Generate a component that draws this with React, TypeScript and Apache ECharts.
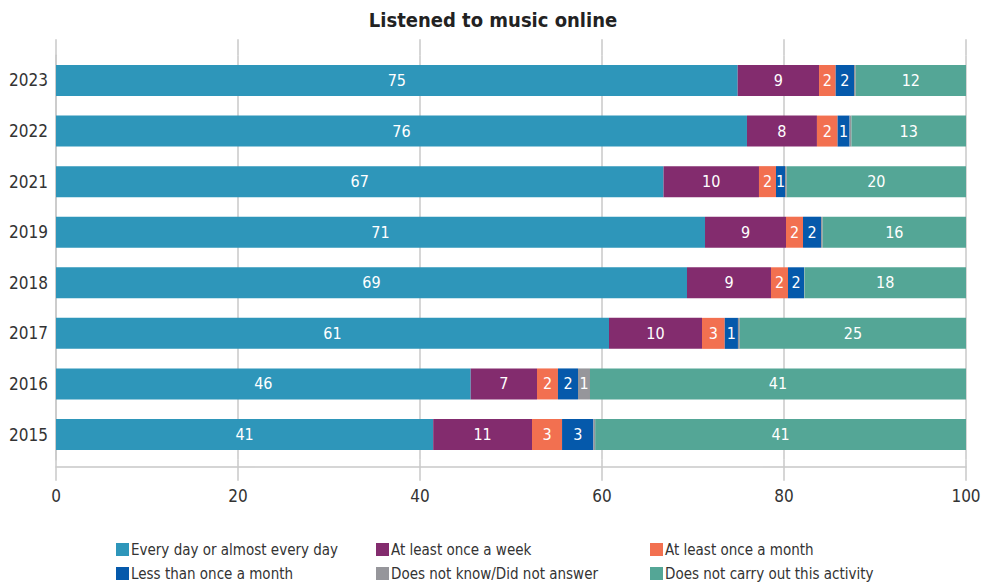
import React, { useEffect, useRef } from "react";
import * as echarts from "echarts";

const years = ["2015", "2016", "2017", "2018", "2019", "2021", "2022", "2023"];
const seriesNames = [
  "Every day or almost every day",
  "At least once a week",
  "At least once a month",
  "Less than once a month",
  "Does not know/Did not answer",
  "Does not carry out this activity",
];
const everyDay = [41.45, 45.57, 60.77, 69.34, 71.32, 66.76, 75.93, 74.91];
const weekly = [10.86, 7.29, 10.22, 9.23, 8.9, 10.49, 7.69, 8.94];
const monthly = [3.3, 2.3, 2.5, 1.87, 1.87, 1.87, 2.27, 1.83];
const lessMonthly = [3.45, 2.2, 1.45, 1.76, 1.98, 0.99, 1.32, 2.01];
const dontKnow = [0.19, 1.32, 0.2, 0.05, 0.18, 0.19, 0.2, 0.19];
const notCarry = [40.75, 41.32, 24.86, 17.75, 15.75, 19.7, 12.59, 12.12];
const xTicks = [0, 20, 40, 60, 80, 100];
const colors = ["#2E96BA", "#832C6E", "#F27050", "#0559AB", "#96969B", "#54A696"];

const FONT = "'DejaVu Sans Condensed', 'Liberation Sans Narrow', 'Roboto', sans-serif";
const GRID_COLOR = "#c8c8c8";

export default function App() {
  const ref = useRef<HTMLDivElement>(null);
  useEffect(() => {
    if (!ref.current) return;
    const chart = echarts.init(ref.current, undefined, { renderer: "svg" });
    const values = [everyDay, weekly, monthly, lessMonthly, dontKnow, notCarry];
    const legendPos = [
      { left: 116, top: 542 },
      { left: 376, top: 542 },
      { left: 650, top: 542 },
      { left: 116, top: 566 },
      { left: 376, top: 566 },
      { left: 650, top: 566 },
    ];
    chart.setOption({
      animation: false,
      backgroundColor: "#ffffff",
      textStyle: { fontFamily: FONT },
      title: {
        text: "Listened to music online",
        left: "center",
        top: 5,
        textStyle: { fontFamily: FONT, fontSize: 20, fontWeight: "bold", color: "#222" },
      },
      legend: seriesNames.map((n, i) => ({
        data: [n],
        left: legendPos[i].left,
        top: legendPos[i].top,
        itemWidth: 13,
        itemHeight: 13,
        icon: "rect",
        padding: 0,
        selectedMode: false,
        textStyle: { fontFamily: FONT, fontSize: 15, color: "#333", padding: [0, 0, 0, -3] },
      })),
      grid: { left: 56, right: 20, top: 55.2, height: 404.6 },
      xAxis: [
        {
          type: "value",
          min: xTicks[0],
          max: xTicks[xTicks.length - 1],
          interval: 20,
          position: "bottom",
          axisLine: { show: false },
          axisTick: { show: true, length: 21, lineStyle: { color: GRID_COLOR, width: 1.5 } },
          splitLine: { show: true, lineStyle: { color: GRID_COLOR, width: 1.5 } },
          axisLabel: { margin: 28, fontFamily: FONT, fontSize: 17, color: "#333" },
        },
        {
          type: "value",
          min: 0,
          max: 100,
          interval: 20,
          position: "bottom",
          offset: 7,
          axisLine: { show: true, lineStyle: { color: GRID_COLOR, width: 1.5 } },
          axisTick: { show: false },
          splitLine: { show: false },
          axisLabel: { show: false },
        },
        {
          type: "value",
          min: 0,
          max: 100,
          interval: 20,
          position: "top",
          axisLine: { show: false },
          axisTick: { show: true, length: 16, lineStyle: { color: GRID_COLOR, width: 1.5 } },
          splitLine: { show: false },
          axisLabel: { show: false },
        },
      ],
      yAxis: {
        type: "category",
        data: years,
        axisLine: { show: true, lineStyle: { color: GRID_COLOR, width: 1.5 } },
        axisTick: { show: false },
        axisLabel: { margin: 8, fontFamily: FONT, fontSize: 17, color: "#333" },
      },
      series: seriesNames.map((name, i) => ({
        name,
        type: "bar",
        stack: "total",
        xAxisIndex: 0,
        barWidth: 31,
        itemStyle: { color: colors[i] },
        data: values[i],
        label: {
          show: true,
          position: "inside",
          color: "#fff",
          fontFamily: FONT,
          fontSize: 16,
          formatter: (p: any) => (p.value >= 0.5 ? String(Math.round(p.value)) : ""),
        },
      })),
    });
    return () => chart.dispose();
  }, []);
  return (
    <div
      ref={ref}
      style={{ position: "absolute", left: 0, top: 0, width: 986, height: 583 }}
    />
  );
}
